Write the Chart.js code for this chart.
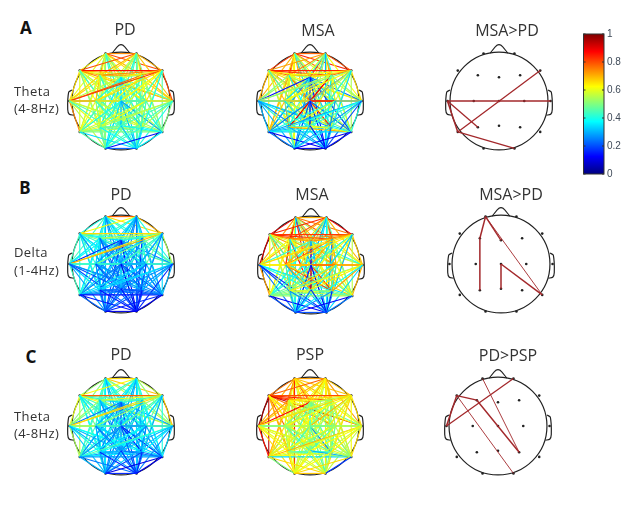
<!DOCTYPE html>
<html>
<head>
<meta charset="utf-8">
<script src="https://cdn.jsdelivr.net/npm/chart.js@4"></script>
<style>
html, body { margin: 0; padding: 0; background: #fff; }
#page { position: relative; width: 636px; height: 515px; overflow: hidden; font-family: "Open Sans", sans-serif; color: #333; }
#page canvas { position: absolute; filter: blur(0.35px); }
.title { position: absolute; font-size: 16px; line-height: 20px; transform: translateX(-50%); white-space: nowrap; }
.band { position: absolute; left: 14px; font-size: 13px; line-height: 18px; letter-spacing: 0.4px; white-space: nowrap; }
.letter { position: absolute; font-family: "Noto Sans", sans-serif; font-weight: 700; font-size: 17px; line-height: 20px; color: #111; transform: translateX(-50%); }
</style>
</head>
<body>
<div id="page"></div>
<script>
// 10-20 electrodes, head coordinates
const electrodes = ["Fp1","Fp2","F7","F3","Fz","F4","F8","T3","C3","Cz","C4","T4","T5","P3","Pz","P4","T6","O1","O2"];
const electrodeX = [-0.30,0.30,-0.80,-0.41,0,0.41,0.80,-1,-0.49,0,0.49,1,-0.80,-0.41,0,0.41,0.80,-0.30,0.30];
const electrodeY = [0.92,0.92,0.59,0.50,0.46,0.50,0.59,0,0,0,0,0,-0.60,-0.51,-0.48,-0.51,-0.60,-0.92,-0.92];

const noseX = [-0.17,-0.04,0.04,0.17];
const noseY = [0.93,1.08,1.08,0.93];
const earX = [-0.95,-1.015,-1.034,-1.003,-0.92];
const earY = [0.214,0.17,-0.165,-0.257,-0.275];
const headRadius = 0.95;

// upper triangle, one row per electrode
const thetaPdA = [
  [.74,.62,.78,.62,.70,.80,.60,.62,.42,.60,.66,.52,.58,.44,.56,.48,.50,.42],
  [.80,.70,.58,.78,.70,.66,.58,.40,.62,.68,.50,.56,.44,.50,.50,.42,.46],
  [.70,.60,.66,.86,.66,.62,.50,.62,.74,.60,.56,.46,.58,.56,.50,.44],
  [.50,.72,.74,.66,.68,.48,.64,.66,.62,.60,.42,.55,.56,.50,.42],
  [.52,.60,.56,.40,.38,.40,.46,.42,.36,.34,.40,.40,.36,.34],
  [.74,.78,.62,.46,.60,.68,.62,.56,.44,.56,.52,.44,.44],
  [.82,.66,.58,.66,.80,.62,.62,.50,.56,.46,.44,.38],
  [.62,.42,.62,.74,.74,.60,.46,.58,.56,.56,.44],
  [.40,.58,.66,.60,.62,.44,.58,.52,.50,.42],
  [.42,.42,.38,.38,.32,.34,.28,.34,.30],
  [.64,.58,.62,.46,.58,.46,.50,.42],
  [.54,.56,.44,.54,.50,.44,.40],
  [.60,.48,.54,.50,.46,.34],
  [.46,.52,.48,.46,.38],
  [.46,.38,.38,.32],
  [.40,.42,.34],
  [.14,.36],
  [.22]
];
const thetaMsa = [
  [.78,.82,.86,.78,.76,.84,.70,.72,.86,.62,.58,.66,.62,.70,.52,.46,.62,.40],
  [.72,.74,.88,.70,.80,.52,.60,.84,.72,.62,.44,.58,.52,.58,.40,.42,.30],
  [.78,.62,.82,.84,.70,.68,.84,.66,.66,.64,.60,.72,.60,.56,.56,.44],
  [.50,.70,.62,.50,.60,.90,.52,.62,.70,.58,.62,.72,.56,.60,.36],
  [.58,.66,.14,.34,.88,.34,.24,.26,.38,.26,.32,.18,.28,.14],
  [.76,.56,.60,.92,.58,.52,.60,.88,.66,.52,.62,.44,.38],
  [.50,.62,.88,.56,.66,.48,.56,.60,.52,.54,.40,.34],
  [.52,.84,.50,.48,.30,.42,.38,.28,.34,.30,.26],
  [.88,.46,.64,.68,.76,.52,.62,.50,.46,.34],
  [.90,.86,.24,.90,.10,.84,.24,.20,.14],
  [.44,.40,.60,.50,.58,.44,.40,.26],
  [.28,.38,.42,.44,.40,.28,.20],
  [.32,.30,.40,.34,.24,.12],
  [.40,.62,.70,.42,.30],
  [.48,.62,.30,.14],
  [.42,.34,.22],
  [.12,.14],
  [.10]
];
const deltaPd = [
  [.78,.40,.44,.38,.42,.66,.44,.40,.30,.38,.42,.34,.38,.28,.34,.32,.30,.26],
  [.62,.42,.36,.40,.70,.38,.34,.28,.36,.40,.30,.32,.26,.30,.30,.26,.24],
  [.42,.38,.46,.66,.44,.42,.32,.44,.50,.40,.44,.32,.40,.36,.34,.28],
  [.34,.50,.56,.36,.34,.22,.34,.44,.38,.36,.24,.30,.30,.28,.22],
  [.36,.42,.16,.28,.32,.28,.26,.24,.22,.26,.20,.24,.18,.12],
  [.62,.64,.40,.30,.42,.46,.34,.34,.28,.34,.30,.26,.18],
  [.70,.50,.42,.48,.54,.44,.42,.28,.36,.34,.30,.24],
  [.46,.36,.46,.42,.44,.34,.20,.28,.26,.28,.20],
  [.28,.40,.44,.42,.38,.26,.30,.26,.24,.20],
  [.26,.30,.24,.22,.32,.22,.20,.22,.10],
  [.44,.34,.34,.24,.30,.30,.26,.18],
  [.34,.34,.26,.30,.30,.26,.16],
  [.30,.26,.26,.14,.22,.14],
  [.24,.22,.22,.20,.14],
  [.22,.20,.20,.14],
  [.24,.20,.14],
  [.16,.10],
  [.10]
];
const deltaMsa = [
  [.70,.90,.92,.84,.78,.76,.72,.84,.62,.70,.52,.60,.62,.86,.58,.50,.40,.26],
  [.84,.78,.82,.90,.88,.70,.66,.44,.74,.70,.40,.52,.36,.46,.46,.30,.38],
  [.72,.76,.84,.82,.92,.70,.42,.72,.60,.62,.64,.72,.52,.62,.50,.44],
  [.70,.70,.74,.62,.82,.46,.70,.54,.62,.72,.86,.64,.62,.40,.36],
  [.68,.74,.42,.70,.88,.70,.40,.40,.66,.14,.62,.52,.32,.30],
  [.70,.64,.76,.84,.70,.64,.40,.66,.56,.72,.54,.34,.26],
  [.66,.64,.50,.62,.68,.42,.62,.50,.62,.56,.34,.30],
  [.70,.60,.62,.64,.72,.20,.40,.42,.36,.24,.16],
  [.74,.72,.66,.56,.68,.72,.80,.66,.40,.30],
  [.88,.72,.42,.50,.90,.82,.46,.16,.12],
  [.72,.48,.66,.66,.72,.62,.36,.40],
  [.48,.62,.64,.72,.70,.38,.34],
  [.50,.52,.48,.52,.20,.12],
  [.56,.62,.56,.30,.26],
  [.50,.46,.24,.16],
  [.50,.28,.14],
  [.12,.24],
  [.20]
];
const thetaPdC = [
  [.66,.52,.50,.36,.46,.68,.50,.42,.30,.42,.56,.40,.40,.30,.40,.38,.36,.30],
  [.62,.42,.34,.48,.56,.48,.36,.28,.44,.52,.36,.40,.30,.36,.38,.30,.34],
  [.54,.42,.46,.78,.60,.48,.30,.44,.62,.56,.40,.34,.44,.42,.40,.36],
  [.34,.50,.60,.52,.44,.32,.40,.52,.44,.40,.24,.34,.34,.34,.30],
  [.36,.44,.24,.30,.14,.30,.28,.26,.24,.28,.26,.26,.24,.20],
  [.56,.66,.42,.32,.38,.52,.40,.36,.26,.38,.36,.30,.30],
  [.66,.52,.40,.46,.68,.48,.42,.34,.42,.40,.34,.28],
  [.52,.34,.50,.58,.54,.40,.30,.38,.38,.32,.30],
  [.28,.38,.46,.44,.36,.26,.34,.32,.28,.24],
  [.26,.28,.26,.24,.28,.14,.16,.28,.20],
  [.44,.38,.36,.26,.32,.28,.28,.24],
  [.46,.38,.30,.36,.34,.32,.26],
  [.40,.28,.36,.28,.30,.24],
  [.30,.32,.30,.28,.16],
  [.26,.24,.20,.16],
  [.24,.20,.16],
  [.10,.10],
  [.16]
];
const thetaPsp = [
  [.72,.76,.72,.82,.70,.68,.70,.60,.68,.66,.62,.72,.68,.58,.62,.68,.84,.62],
  [.78,.70,.62,.70,.68,.66,.60,.54,.68,.72,.70,.62,.56,.64,.66,.62,.64],
  [.86,.80,.84,.80,.96,.78,.72,.76,.92,.94,.72,.70,.68,.62,.70,.62],
  [.60,.62,.66,.72,.58,.64,.60,.62,.68,.56,.54,.56,.62,.60,.56],
  [.50,.56,.88,.48,.46,.50,.48,.54,.44,.42,.44,.48,.56,.50],
  [.66,.58,.50,.44,.50,.56,.62,.50,.46,.48,.54,.58,.50],
  [.66,.62,.56,.64,.66,.70,.58,.50,.58,.62,.64,.66],
  [.64,.58,.60,.42,.86,.62,.60,.58,.60,.66,.60],
  [.52,.54,.58,.66,.50,.44,.46,.54,.60,.50],
  [.46,.50,.58,.44,.52,.26,.50,.58,.44],
  [.56,.62,.50,.46,.44,.56,.62,.50],
  [.70,.60,.62,.64,.66,.58,.56],
  [.62,.56,.62,.34,.50,.66],
  [.46,.40,.52,.62,.56],
  [.42,.30,.60,.60],
  [.52,.62,.58],
  [.66,.18],
  [.68]
];

// significant connections: from, to, line weight
const msaOverPdTheta = [["T3","T4",1.3],["T3","P3",1.3],["T3","T5",1.5],["T5","F8",1.3],["T5","O2",1.3]];
const msaOverPdDelta = [["Fp1","F3",1.5],["F3","P3",1.5],["Fp1","Fz",1.4],["Fp1","T6",0.9],["Cz","T6",1.5],["Cz","Pz",1.5]];
const pdOverPsp = [["T3","F7",1.5],["T3","Fp2",1.3],["F7","F3",1.3],["F3","P4",1.4],["Fp1","P4",0.9],["F7","O2",0.9]];

const colorbarTicks = [0,0.2,0.4,0.6,0.8,1];

const SIG_COLOR = "#a3282b";

function jet(v) {
  const c = k => Math.round(255 * Math.max(0, Math.min(1, 1.5 - Math.abs(4 * v - k))));
  return `rgb(${c(3)},${c(2)},${c(1)})`;
}

function pt(name) {
  const i = electrodes.indexOf(name);
  return { x: electrodeX[i], y: electrodeY[i] };
}

function edge(a, b, color, width) {
  return { data: [a, b], showLine: true, borderColor: color, borderWidth: width, pointRadius: 0, clip: false };
}

function outline(xs, ys) {
  return { data: xs.map((x, i) => ({ x: x, y: ys[i] })), showLine: true, borderColor: "#222", borderWidth: 1.2, pointRadius: 0, tension: 0.3, clip: false };
}

const headPlugin = {
  id: "head",
  beforeDatasetsDraw(chart) {
    const c = chart.ctx, sx = chart.scales.x, sy = chart.scales.y;
    c.save();
    c.strokeStyle = "#222";
    c.lineWidth = 1.2;
    c.beginPath();
    c.arc(sx.getPixelForValue(0), sy.getPixelForValue(0), sx.getPixelForValue(headRadius) - sx.getPixelForValue(0), 0, Math.PI * 2);
    c.stroke();
    c.restore();
  }
};

function addCanvas(left, top, w, h) {
  const cv = document.createElement("canvas");
  cv.width = w;
  cv.height = h;
  cv.style.left = left + "px";
  cv.style.top = top + "px";
  cv.style.width = w + "px";
  cv.style.height = h + "px";
  document.getElementById("page").appendChild(cv);
  return cv;
}

function drawHead(cx, cy, edgeSets) {
  // first dataset ends up on top
  const nodes = { data: electrodes.map(pt), pointRadius: 1.3, pointBackgroundColor: "#222", pointBorderWidth: 0, showLine: false, clip: false };
  const shape = [outline(noseX, noseY), outline(earX, earY), outline(earX.map(x => -x), earY)];
  new Chart(addCanvas(cx - 71, cy - 71, 142, 142), {
    type: "scatter",
    data: { datasets: edgeSets.concat([nodes], shape) },
    options: {
      responsive: false,
      animation: false,
      events: [],
      layout: { padding: 0 },
      plugins: { legend: { display: false }, tooltip: { enabled: false } },
      scales: {
        x: { display: false, min: -1.3, max: 1.3 },
        y: { display: false, min: -1.3, max: 1.3 }
      }
    },
    plugins: [headPlugin]
  });
}

function denseEdges(rows) {
  const out = [];
  rows.forEach((row, i) => {
    row.forEach((v, k) => {
      out.push(edge(pt(electrodes[i]), pt(electrodes[i + k + 1]), jet(v), 1.1));
    });
  });
  return out.reverse();
}

function sigEdges(list) {
  return list.map(e => edge(pt(e[0]), pt(e[1]), SIG_COLOR, e[2]));
}

drawHead(121, 101, denseEdges(thetaPdA));
drawHead(310, 101, denseEdges(thetaMsa));
drawHead(499, 101, sigEdges(msaOverPdTheta));
drawHead(121, 264, denseEdges(deltaPd));
drawHead(311, 265, denseEdges(deltaMsa));
drawHead(501, 264, sigEdges(msaOverPdDelta));
drawHead(121, 426, denseEdges(thetaPdC));
drawHead(310, 426, denseEdges(thetaPsp));
drawHead(498, 426, sigEdges(pdOverPsp));

// colorbar
new Chart(addCanvas(583, 25, 53, 158), {
  type: "bar",
  data: {
    labels: [""],
    datasets: [{
      data: [[colorbarTicks[0], colorbarTicks[colorbarTicks.length - 1]]],
      barPercentage: 1,
      categoryPercentage: 1,
      backgroundColor(ctx) {
        const area = ctx.chart.chartArea;
        if (!area) return "#000";
        const g = ctx.chart.ctx.createLinearGradient(0, area.bottom, 0, area.top);
        for (let i = 0; i <= 32; i++) g.addColorStop(i / 32, jet(i / 32));
        return g;
      }
    }]
  },
  options: {
    responsive: false,
    animation: false,
    events: [],
    layout: { padding: { top: 8, bottom: 8, left: 0.5 } },
    plugins: { legend: { display: false }, tooltip: { enabled: false } },
    scales: {
      x: { display: false },
      y: {
        position: "right",
        min: 0,
        max: 1,
        afterFit(s) { s.width = 32; },
        afterBuildTicks(s) { s.ticks = colorbarTicks.map(v => ({ value: v })); },
        grid: { display: false, drawTicks: false },
        border: { display: false },
        ticks: { color: "#3f4a58", padding: 3, font: { family: "Liberation Sans", size: 10 }, callback: v => String(v) }
      }
    }
  },
  plugins: [{
    id: "barFrame",
    afterDatasetsDraw(chart) {
      const c = chart.ctx, a = chart.chartArea, sy = chart.scales.y;
      c.save();
      c.strokeStyle = "#333";
      c.lineWidth = 1;
      c.strokeRect(a.left, a.top, a.right - a.left, a.bottom - a.top);
      colorbarTicks.forEach(v => {
        const y = sy.getPixelForValue(v);
        c.beginPath();
        c.moveTo(a.left, y);
        c.lineTo(a.left + 2, y);
        c.moveTo(a.right, y);
        c.lineTo(a.right - 2, y);
        c.stroke();
      });
      c.restore();
    }
  }]
});

// text
function addText(cls, text, x, y) {
  const d = document.createElement("div");
  d.className = cls;
  d.textContent = text;
  if (x !== null) d.style.left = x + "px";
  d.style.top = (y - 10) + "px";
  document.getElementById("page").appendChild(d);
}

addText("letter", "A", 26, 28);
addText("letter", "B", 25, 188);
addText("letter", "C", 31, 357);

addText("title", "PD", 125, 29);
addText("title", "MSA", 318, 30);
addText("title", "MSA>PD", 507, 30);
addText("title", "PD", 121, 194);
addText("title", "MSA", 312, 194);
addText("title", "MSA>PD", 511, 194);
addText("title", "PD", 121, 354);
addText("title", "PSP", 310, 354);
addText("title", "PD>PSP", 508, 355);

addText("band", "Theta", null, 92);
addText("band", "(4-8Hz)", null, 109);
addText("band", "Delta", null, 253);
addText("band", "(1-4Hz)", null, 271);
addText("band", "Theta", null, 417);
addText("band", "(4-8Hz)", null, 434);
</script>
</body>
</html>
